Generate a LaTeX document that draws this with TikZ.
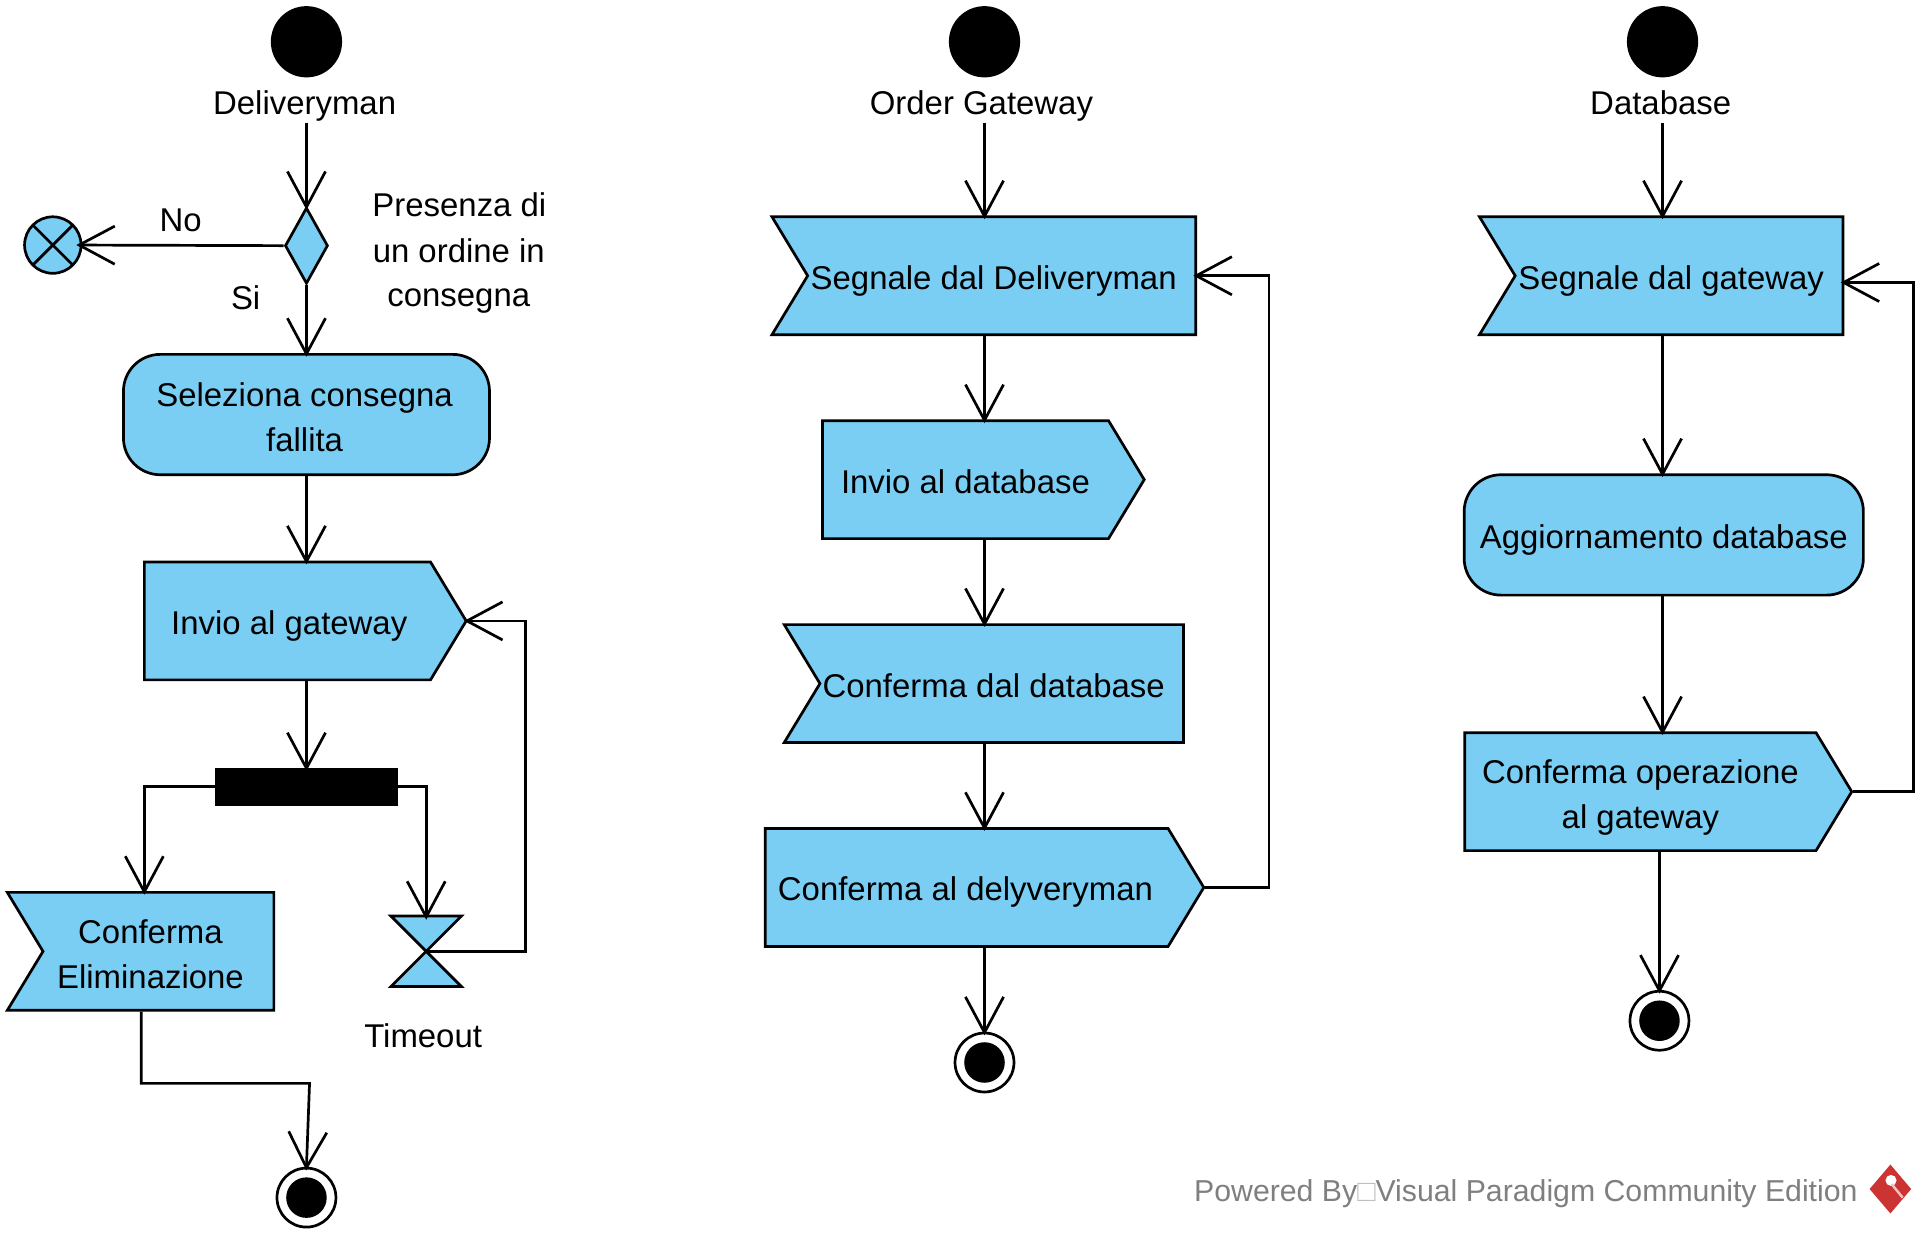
\documentclass[tikz,border=0pt]{standalone}
\usepackage{fontspec}
\setmainfont{Liberation Sans}
\usepackage{xcolor}
\usetikzlibrary{arrows.meta,shapes.geometric,shapes.symbols}
\definecolor{vpblue}{HTML}{7ACEF4}
\definecolor{vpgrey}{HTML}{7F7F7F}
\definecolor{vpred}{HTML}{CC3333}
\newcommand\nudge{\hspace*{13pt}}
\tikzset{
    >={Straight Barb[length=29pt,width=31pt]},
    every node/.style={font=\fontsize{26.8}{36.6}\selectfont},
    flow/.style={->,line width=2.2pt,black,shorten >=-3pt},
    startdot/.style={circle,fill=black,minimum size=58pt,inner sep=0pt},
    enddot/.style={circle,fill=black,minimum size=33pt,inner sep=0pt},
    endring/.style={circle,draw,line width=2.2pt,fill=white,minimum size=48pt,inner sep=0pt},
    plaintext/.style={anchor=base,align=center,inner sep=0pt},
    oneline/.style={text height=22pt,text depth=0pt},
    twoline/.style={text height=60.2pt,text depth=0pt},
    actionbox/.style={rectangle,draw,line width=2.2pt,fill=vpblue,rounded corners=30pt,align=center,inner sep=0pt},
    sendbox/.style={signal,signal to=east,signal from=nowhere,signal pointer angle=117.6,draw,line width=2.2pt,fill=vpblue,align=center,inner sep=0pt,minimum height=96pt},
    recvbox/.style={signal,signal to=nowhere,signal from=west,signal pointer angle=117.6,draw,line width=2.2pt,fill=vpblue,align=center,inner sep=0pt,minimum height=96pt},
}
\begin{document}
\begin{tikzpicture}[x=1pt,y=-1pt]
    \useasboundingbox (0,0) rectangle (1568,1008.7);

    % Deliveryman
    \node[startdot] (startDm) at (249.5,34) {};
    \node[plaintext] (lblDm) at (248,93) {Deliveryman};
    \node[diamond,draw,line width=2.2pt,fill=vpblue,inner sep=0pt,minimum width=35pt,minimum height=62pt,shape aspect=0.565] (decOrd) at (249.5,200) {};
    \node[circle,draw,line width=2.2pt,fill=vpblue,minimum size=46pt,inner sep=0pt,
        path picture={\draw[line width=2.2pt] (path picture bounding box.north west) -- (path picture bounding box.south east)
            (path picture bounding box.north east) -- (path picture bounding box.south west);}] (flowEnd) at (43,199.5) {};
    \node[plaintext] (lblNo) at (147,188.5) {No};
    \node[plaintext] (lblSi) at (200,252) {Si};
    \node[plaintext] (lblOrd) at (374,176.5) {Presenza di};
    \node[plaintext] (lblOrdB) at (373.5,213.5) {un ordine in};
    \node[plaintext] (lblOrdC) at (373.5,249.5) {consegna};
    \node[actionbox,twoline,minimum width=298pt,minimum height=98pt] (actSel) at (249.5,337.5) {Seleziona consegna\hspace*{3pt}\\fallita\hspace*{3pt}};
    \node[sendbox,oneline,minimum width=262pt] (sendGw) at (234,505.5) {\hspace*{3pt}Invio al gateway};
    \node[rectangle,fill=black,minimum width=149pt,minimum height=31pt,inner sep=0pt] (forkBar) at (249.5,640.5) {};
    \node[recvbox,twoline,minimum width=217pt] (recvDel) at (129,774.5) {Conferma\hspace*{13pt}\\Eliminazione\hspace*{13pt}};
    \node[inner sep=0pt,minimum width=57pt,minimum height=57pt] (timeEv) at (347,774.5) {};
    \draw[line width=2.2pt,fill=vpblue] (timeEv.north west) -- (timeEv.north east) -- (timeEv.south west) -- (timeEv.south east) -- cycle;
    \node[plaintext] (lblTime) at (344.5,853) {Timeout};
    \node[endring] (endDm) at (249.5,975) {};
    \node[enddot] (endDmIn) at (249.5,975) {};
    \coordinate (loopDm) at (428,640);
    \coordinate (turnDm) at (252,882);

    \draw[flow] (decOrd |- lblDm.south) ++(0,1) -- (decOrd.north);
    \draw[flow] (decOrd.west) -- ([xshift=-2pt]flowEnd.east);
    \draw[flow] (decOrd.south) -- (actSel.north);
    \draw[flow] (actSel.south) -- (actSel.south |- sendGw.north);
    \draw[flow] (actSel.south |- sendGw.south) -- (forkBar.north);
    \draw[flow] (forkBar.west) -| (recvDel.north -| 117.5,0);
    \draw[flow] (forkBar.east) -| (timeEv.north);
    \draw[flow] (timeEv.center) -| (loopDm) |- (sendGw.east);
    \draw[flow] (recvDel.south -| 115,0) |- (turnDm) -- (endDm.north);

    % Order Gateway
    \node[startdot] (startOg) at (801.5,34) {};
    \node[plaintext] (lblOg) at (799,93) {Order Gateway};
    \node[recvbox,oneline,minimum width=345pt] (recvDm) at (815.5,224.5) {Segnale dal Deliveryman\nudge};
    \node[sendbox,oneline,minimum width=262pt] (sendDb) at (786,390.5) {Invio al database};
    \node[recvbox,oneline,minimum width=325pt] (recvDb) at (815.5,556.5) {Conferma dal database\nudge};
    \node[sendbox,oneline,minimum width=357pt] (sendDm) at (787,722.5) {Conferma al delyveryman\hspace*{2pt}};
    \node[endring] (endOg) at (801.5,865) {};
    \node[enddot] (endOgIn) at (801.5,865) {};
    \coordinate (loopOg) at (1033,500);

    \draw[flow] (startOg |- lblOg.south) ++(0,1) -- (startOg |- recvDm.north);
    \draw[flow] (startOg |- recvDm.south) -- (startOg |- sendDb.north);
    \draw[flow] (startOg |- sendDb.south) -- (startOg |- recvDb.north);
    \draw[flow] (startOg |- recvDb.south) -- (startOg |- sendDm.north);
    \draw[flow] (startOg |- sendDm.south) -- (endOg.north);
    \draw[flow] (sendDm.east) -| (loopOg) |- (recvDm.east);

    % Database
    \node[startdot] (startDb) at (1353.5,34) {};
    \node[plaintext] (lblDb) at (1352,93) {Database};
    \node[recvbox,oneline,minimum width=296pt] (recvGw) at (1367,224.5) {Segnale dal gateway\nudge};
    \node[actionbox,oneline,minimum width=325pt,minimum height=98pt] (actUpd) at (1354.5,435.5) {Aggiornamento database};
    \node[sendbox,twoline,minimum width=315pt] (sendConf) at (1335.5,644.5) {Conferma operazione\\al gateway};
    \node[endring] (endDb) at (1351,831) {};
    \node[enddot] (endDbIn) at (1351,831) {};
    \coordinate (loopDb) at (1558,500);

    \draw[flow] (startDb |- lblDb.south) ++(0,7) -- (startDb |- recvGw.north);
    \draw[flow] (startDb |- recvGw.south) -- (startDb |- actUpd.north);
    \draw[flow] (startDb |- actUpd.south) -- (startDb |- sendConf.north);
    \draw[flow] (endDb |- sendConf.south) -- (endDb.north);
    \draw[flow] (sendConf.east) -| (loopDb) |- ([yshift=-5.5pt]recvGw.east);

    % watermark
    \node[anchor=base west,inner sep=0pt,text=vpgrey,font=\fontsize{24.63}{30}\selectfont] (lblPower) at (972,978) {Powered By\textcolor{lightgray}{□}Visual Paradigm Community Edition};
    \node[diamond,fill=vpred,inner sep=0pt,minimum width=34pt,minimum height=40pt] (logoVp) at (1539,968) {};
    \fill[white] (1539.5,961) circle (4.5);
    \draw[white!70!vpred,line width=2pt] (1540,964) -- (1549,975);
\end{tikzpicture}
\end{document}
